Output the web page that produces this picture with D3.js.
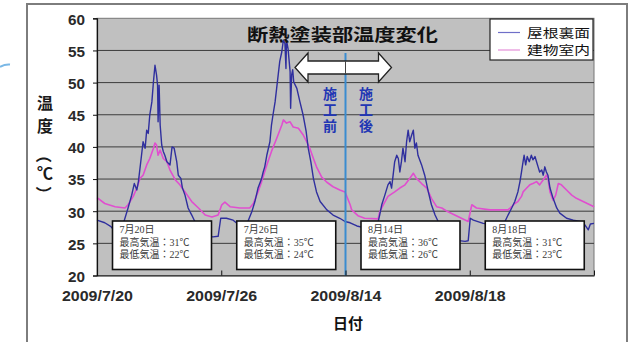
<!DOCTYPE html>
<html>
<head>
<meta charset="utf-8">
<script src="https://cdn.jsdelivr.net/npm/d3@7"></script>
<style>
  html, body { margin: 0; padding: 0; background: #fff; }
  svg { display: block; }
</style>
</head>
<body>
<svg id="chart" width="637" height="342"></svg>
<script>
// ---- data ----
const dayLabels = ["2009/7/20", "2009/7/26", "2009/8/14", "2009/8/18"];
const seriesNames = ["屋根裏面", "建物室内"];
const yTicks = [20, 25, 30, 35, 40, 45, 50, 55, 60];

// hours elapsed across the four plotted days (24 h per day)
const roofHours = [0.0,1.5,2.7,3.5,4.3,5.1,6.0,6.7,7.2,7.7,8.0,8.6,8.9,9.3,9.6,9.9,10.2,10.6,10.9,11.2,11.5,11.7,11.8,12.0,12.2,12.5,12.8,13.1,13.5,14.1,14.5,14.9,15.4,15.7,16.2,16.5,17.0,17.6,18.3,18.9,19.9,21.2,22.4,23.4,23.9,25.0,26.3,27.2,28.2,28.8,29.9,30.5,31.1,31.8,32.1,32.4,32.8,33.4,33.7,34.0,34.4,34.7,35.0,35.3,35.7,36.0,36.3,36.5,36.6,36.9,37.3,37.4,37.6,37.8,38.0,38.6,39.2,39.8,40.4,40.8,41.3,41.8,42.4,43.1,44.4,45.6,46.9,47.9,48.9,50.2,51.7,53.1,54.3,54.6,55.0,55.6,56.2,56.6,56.9,57.2,57.5,57.9,58.2,58.5,58.8,59.1,59.5,59.8,60.1,60.4,60.8,61.1,61.4,61.7,62.0,62.7,63.3,64.0,64.6,65.3,65.9,67.2,69.1,71.1,71.7,72.1,72.7,74.6,75.9,77.8,78.8,79.4,80.1,80.7,81.3,81.7,82.0,82.3,82.5,82.8,83.1,83.5,83.9,84.2,84.6,84.9,85.2,85.5,85.9,86.2,86.5,86.8,87.1,87.5,88.1,88.8,89.4,90.7,92.0,93.3,94.2,94.9,95.3,96.0];
const roofTemps = [28.6,28.2,27.6,26.8,26.5,28.1,30.5,32.5,34.3,33.3,34.6,38.7,40.8,39.8,42.6,42.1,45.0,47.0,50.1,52.7,51.2,49.6,43.9,49.6,43.4,40.3,39.3,38.7,37.7,37.2,40.0,39.8,37.7,35.6,35.1,33.6,32.5,30.5,29.4,28.4,27.1,26.1,26.0,26.1,28.9,28.9,28.6,28.0,27.4,27.7,29.9,31.5,33.6,35.1,36.1,36.9,38.7,40.8,43.4,45.0,47.0,49.1,51.2,53.3,54.8,56.6,56.1,52.2,56.6,55.3,51.7,46.0,51.2,52.0,50.1,49.1,47.0,45.0,42.4,39.8,37.7,35.1,33.0,31.5,30.2,29.4,28.9,28.4,28.2,27.7,27.4,27.4,28.3,29.4,31.0,32.5,34.1,34.6,33.6,35.6,37.7,38.7,38.2,36.1,37.7,39.8,37.7,40.8,42.6,40.8,41.9,42.6,39.8,40.6,38.7,37.2,35.6,33.0,31.0,29.4,28.4,26.8,25.5,25.3,25.4,28.9,28.6,28.1,28.0,27.7,28.4,29.4,30.5,31.5,33.0,34.6,36.1,37.7,38.7,37.2,38.5,37.7,38.7,38.0,38.5,37.7,36.9,36.1,36.4,35.6,36.9,36.1,35.6,33.6,32.0,30.5,29.7,28.9,28.6,28.4,27.9,27.1,28.0,28.1];

const roomHours = [0.0,1.5,3.5,5.4,6.0,7.0,7.7,8.3,8.9,9.6,10.2,10.9,11.2,11.5,11.8,12.2,12.8,13.5,14.1,15.1,16.0,17.0,18.3,19.6,20.9,22.2,23.4,24.1,24.7,25.7,27.6,29.5,30.2,31.1,31.8,32.8,33.7,34.7,35.7,36.0,36.6,37.3,37.9,38.9,39.8,40.5,41.1,41.8,42.4,43.4,44.4,45.6,46.9,47.9,48.9,49.2,50.4,51.7,54.3,54.6,55.3,56.2,57.5,58.5,59.5,60.4,61.1,61.7,62.7,63.7,64.6,65.6,66.6,67.8,69.1,70.4,71.7,72.4,73.3,75.9,79.4,80.1,80.7,81.3,82.0,82.3,83.0,83.6,84.2,84.9,85.5,86.2,86.8,87.1,87.5,88.1,88.6,89.1,89.7,90.7,91.7,92.6,93.9,95.2,96.0];
const roomTemps = [32.1,31.2,30.7,30.5,31.0,32.3,33.6,35.1,35.6,37.2,38.2,39.8,40.6,40.3,38.7,39.5,38.2,37.7,36.4,34.9,34.1,33.0,31.5,30.5,29.4,29.1,29.4,31.0,31.4,30.7,30.5,30.5,31.2,33.0,34.6,37.2,39.3,41.3,43.4,44.2,43.7,43.9,43.1,42.9,41.9,40.8,39.8,38.2,36.9,35.3,34.5,33.8,33.3,33.0,31.0,30.2,29.3,28.9,28.8,29.9,31.0,32.3,33.0,33.6,34.1,35.1,35.9,35.1,34.3,33.6,32.0,30.7,30.5,29.9,29.4,28.9,28.4,31.0,30.5,30.2,30.2,30.7,31.2,31.5,32.3,33.0,33.6,34.1,34.3,34.6,34.1,34.9,35.6,35.1,33.0,31.7,32.5,34.3,34.1,33.3,32.5,32.0,31.5,31.0,30.7];

// daily weather notes
const noteDates = ["7月20日", "7月26日", "8月14日", "8月18日"];
const noteMax = [31, 35, 36, 31];
const noteMin = [22, 24, 26, 23];

// ---- drawing ----
const svg = d3.select("#chart");
const CJK = "'Noto Sans CJK JP', 'Noto Sans', sans-serif";
const LATIN = "'Liberation Sans', Arial, sans-serif";
const plot = { left: 97, right: 594, top: 18.3, bottom: 275.5 };

const x = d3.scaleLinear().domain([0, 96]).range([plot.left, plot.right]);
const y = d3.scaleLinear().domain([20, 60]).range([plot.bottom, plot.top]);

// outer chart frame
svg.append("rect")
  .attr("x", 27).attr("y", 4).attr("width", 600).attr("height", 360)
  .attr("fill", "#fff").attr("stroke", "#7d7d7d").attr("stroke-width", 2);

// small stray mark at the page edge
svg.append("path")
  .attr("d", "M0,67 Q5,64 10,64.5")
  .attr("fill", "none").attr("stroke", "#7ab8e6").attr("stroke-width", 2);

// plot background
svg.append("rect")
  .attr("x", plot.left).attr("y", plot.top)
  .attr("width", plot.right - plot.left).attr("height", plot.bottom - plot.top)
  .attr("fill", "#c0c0c0").attr("stroke", "#777").attr("stroke-width", 1);

// horizontal gridlines
svg.append("g").selectAll("line")
  .data(yTicks.filter(v => v > 20 && v < 60))
  .join("line")
  .attr("x1", plot.left).attr("x2", plot.right)
  .attr("y1", d => y(d)).attr("y2", d => y(d))
  .attr("stroke", "#3c3c3c").attr("stroke-width", 1);

// series lines
const line = d3.line().x(d => x(d[0])).y(d => y(d[1]));
const roofPts = roofHours.map((h, i) => [h, roofTemps[i]]);
const roomPts = roomHours.map((h, i) => [h, roomTemps[i]]);

svg.append("path").datum(roomPts)
  .attr("d", line).attr("fill", "none")
  .attr("stroke", "#e04fcf").attr("stroke-width", 1.6).attr("stroke-linejoin", "round");
svg.append("path").datum(roofPts)
  .attr("d", line).attr("fill", "none")
  .attr("stroke", "#2f2f9e").attr("stroke-width", 1.4).attr("stroke-linejoin", "round");

// weather note boxes
const notes = svg.append("g");
noteDates.forEach((dt, i) => {
  const bx = x(i * 24) + 15.5, by = 221, bw = 99, bh = 48.5;
  const g = notes.append("g");
  g.append("rect").attr("x", bx).attr("y", by).attr("width", bw).attr("height", bh)
    .attr("fill", "#fff").attr("stroke", "#111").attr("stroke-width", 1.6);
  const lines = [dt, `最高気温：${noteMax[i]}℃`, `最低気温：${noteMin[i]}℃`];
  g.selectAll("text").data(lines).join("text")
    .attr("x", bx + 7).attr("y", (d, k) => by + 12 + k * 12.5)
    .attr("font-family", "'Liberation Serif', 'Noto Sans CJK JP', serif")
    .attr("font-size", 10).attr("fill", "#3a3a3a")
    .text(d => d);
});

// construction boundary line
const cx = x(48);
svg.append("line")
  .attr("x1", cx).attr("x2", cx).attr("y1", 53).attr("y2", plot.bottom)
  .attr("stroke", "#3a8cd0").attr("stroke-width", 2);

// double-headed arrow across the boundary
const ay = 67.5, aL = cx - 50.5, aR = cx + 46, head = 13, sh = 6.5, hh = 14.5;
svg.append("path")
  .attr("d", `M${aL},${ay} L${aL + head},${ay - hh} L${aL + head},${ay - sh} L${aR - head},${ay - sh} L${aR - head},${ay - hh} L${aR},${ay} L${aR - head},${ay + hh} L${aR - head},${ay + sh} L${aL + head},${ay + sh} L${aL + head},${ay + hh} Z`)
  .attr("fill", "#fff").attr("stroke", "#222").attr("stroke-width", 1.3).attr("stroke-linejoin", "miter");
svg.append("line")
  .attr("x1", cx).attr("x2", cx).attr("y1", ay - sh).attr("y2", ay + sh)
  .attr("stroke", "#444").attr("stroke-width", 1);

// before / after labels, set vertically
["施工前", "施工後"].forEach((label, j) => {
  svg.append("text")
    .attr("x", j === 0 ? cx - 15.5 : cx + 20.5).attr("y", 87)
    .attr("writing-mode", "tb").style("writing-mode", "vertical-rl")
    .attr("letter-spacing", 2)
    .attr("font-family", CJK).attr("font-weight", 700).attr("font-size", 14)
    .attr("fill", "#2237b4")
    .text(label);
});

// title
svg.append("text")
  .attr("x", 247).attr("y", 40.5)
  .attr("textLength", 191).attr("lengthAdjust", "spacingAndGlyphs")
  .attr("font-family", CJK).attr("font-weight", 700).attr("font-size", 17)
  .attr("fill", "#111")
  .text("断熱塗装部温度変化");

// legend
const lg = svg.append("g");
lg.append("rect").attr("x", 490).attr("y", 19).attr("width", 103).attr("height", 41)
  .attr("fill", "#fff").attr("stroke", "#222").attr("stroke-width", 1.2);
const legendColors = ["#6f6fc8", "#e58fd8"];
seriesNames.forEach((name, i) => {
  const ly = 32.5 + i * 17.5;
  lg.append("line").attr("x1", 498).attr("x2", 520).attr("y1", ly).attr("y2", ly)
    .attr("stroke", legendColors[i]).attr("stroke-width", 1.2);
  lg.append("text").attr("x", 527).attr("y", ly + 5)
    .attr("textLength", 63).attr("lengthAdjust", "spacingAndGlyphs")
    .attr("font-family", CJK).attr("font-size", 12.5).attr("fill", "#111")
    .text(name);
});

// y axis
const yAxis = d3.axisLeft(y).tickValues(yTicks).tickSize(4).tickPadding(8).tickFormat(d3.format("d"));
const gy = svg.append("g").attr("transform", `translate(${plot.left},0)`).call(yAxis);
gy.select(".domain").attr("stroke", "#111").attr("stroke-width", 1.2);
gy.selectAll(".tick line").attr("stroke", "#111");
gy.selectAll(".tick text")
  .attr("font-family", LATIN).attr("font-weight", 700).attr("font-size", 14)
  .attr("fill", "#2a2a2a").attr("dy", "0.42em")
  .attr("textLength", 17).attr("lengthAdjust", "spacingAndGlyphs");

// x axis
const xAxis = d3.axisBottom(x).tickValues([0, 24, 48, 72, 96])
  .tickSizeInner(-5).tickSizeOuter(0).tickPadding(16)
  .tickFormat((d, i) => dayLabels[i] || "");
const gx = svg.append("g").attr("transform", `translate(0,${plot.bottom})`).call(xAxis);
gx.select(".domain").attr("stroke", "#111").attr("stroke-width", 1.2);
gx.selectAll(".tick line").attr("stroke", "#111");
gx.selectAll(".tick text")
  .filter(d => d < 96)
  .attr("font-family", LATIN).attr("font-weight", 700).attr("font-size", 14)
  .attr("fill", "#2a2a2a")
  .attr("textLength", 71).attr("lengthAdjust", "spacingAndGlyphs");

// axis titles
svg.append("text")
  .attr("x", 333).attr("y", 329)
  .attr("textLength", 30).attr("lengthAdjust", "spacingAndGlyphs")
  .attr("font-family", CJK).attr("font-weight", 700).attr("font-size", 15)
  .attr("fill", "#111").text("日付");

const yLab = svg.append("g").attr("font-family", CJK).attr("font-weight", 700)
  .attr("font-size", 16).attr("fill", "#1a1a1a").attr("text-anchor", "middle")
  .attr("dominant-baseline", "central");
yLab.append("text").attr("x", 45).attr("y", 102).text("温");
yLab.append("text").attr("x", 45).attr("y", 125).text("度");
yLab.append("text").attr("transform", "translate(45,155) rotate(90)").text("（");
yLab.append("text").attr("x", 45).attr("y", 172).text("℃");
yLab.append("text").attr("transform", "translate(45,194) rotate(90)").text("）");
</script>
</body>
</html>
